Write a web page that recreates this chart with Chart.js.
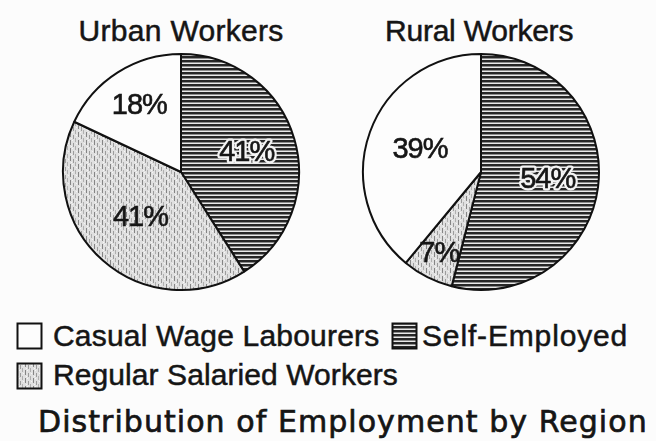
<!DOCTYPE html>
<html>
<head>
<meta charset="utf-8">
<script src="https://cdn.jsdelivr.net/npm/chart.js@4.4.1/dist/chart.umd.min.js"></script>
<style>
  html, body { margin: 0; padding: 0; background: #fcfcfc; }
  #stage { position: relative; width: 656px; height: 441px; overflow: hidden; background: #fcfcfc; }
  .pie { position: absolute; width: 240px; height: 240px; }
  .txt { position: absolute; white-space: nowrap; color: #151515;
         font-family: "Liberation Sans", Arial, Helvetica, sans-serif; font-size: 30px; line-height: 1;
         -webkit-text-stroke: 0.5px #151515; }
  .sw { position: absolute; }
  #caption { font-family: "DejaVu Sans", sans-serif; font-size: 30px; -webkit-text-stroke: 0.7px #151515; }
</style>
</head>
<body>
<div id="stage">
  <div class="pie" style="left:61px; top:52px;"><canvas id="urban" width="240" height="240"></canvas></div>
  <div class="pie" style="left:361px; top:52px;"><canvas id="rural" width="240" height="240"></canvas></div>
  <div class="txt" id="t0" style="top:16px;"></div>
  <div class="txt" id="t1" style="top:16px;"></div>
  <canvas class="sw" id="sw0" width="27" height="28" style="left:16px; top:322px;"></canvas>
  <div class="txt" id="l0" style="left:53px; top:321px;"></div>
  <canvas class="sw" id="sw1" width="27" height="28" style="left:391px; top:322px;"></canvas>
  <div class="txt" id="l1" style="left:422px; top:321px;"></div>
  <canvas class="sw" id="sw2" width="27" height="28" style="left:16px; top:362px;"></canvas>
  <div class="txt" id="l2" style="left:53px; top:360px;"></div>
  <div class="txt" id="caption" style="left:38px; top:407px;"></div>
</div>
<script>
// ---- data ----
const categories = ['Self-Employed', 'Regular Salaried Workers', 'Casual Wage Labourers'];
const urbanValues = [41, 41, 18];
const ruralValues = [54, 7, 39];
const pieTitles = ['Urban Workers', 'Rural Workers'];
const legendOrder = ['Casual Wage Labourers', 'Self-Employed', 'Regular Salaried Workers'];
const chartTitle = 'Distribution of Employment by Region';

// ---- patterns ----
function makePattern(kind) {
  const c = document.createElement('canvas');
  const g = c.getContext('2d');
  if (kind === 'lines') {
    c.width = 4; c.height = 4;
    g.fillStyle = '#e9e9e9'; g.fillRect(0, 0, 4, 4);
    g.fillStyle = '#262626'; g.fillRect(0, 0, 4, 2);
    g.fillStyle = '#8c8c8c'; g.fillRect(0, 2, 4, 1);
  } else if (kind === 'dots') {
    c.width = 8; c.height = 8;
    g.fillStyle = '#e0e0e0'; g.fillRect(0, 0, 8, 8);
    g.fillStyle = '#858585'; g.fillRect(1, 0, 1, 5);
    g.fillStyle = '#9c9c9c'; g.fillRect(4, 3, 1, 4);
    g.fillStyle = '#b0b0b0'; g.fillRect(6, 6, 1, 2); g.fillRect(6, 0, 1, 2);
    g.fillStyle = '#f6f6f6'; g.fillRect(3, 0, 1, 1); g.fillRect(7, 3, 1, 1); g.fillRect(2, 6, 1, 1);
  } else {
    c.width = 2; c.height = 2;
    g.fillStyle = '#fdfdfd'; g.fillRect(0, 0, 2, 2);
  }
  return g.createPattern(c, 'repeat');
}
const fills = {
  'Self-Employed': makePattern('lines'),
  'Regular Salaried Workers': makePattern('dots'),
  'Casual Wage Labourers': makePattern('plain')
};

// ---- slice label plugin ----
const sliceLabels = {
  id: 'sliceLabels',
  afterDatasetsDraw(chart, args, opts) {
    const ctx = chart.ctx;
    const meta = chart.getDatasetMeta(0);
    const vals = chart.data.datasets[0].data;
    meta.data.forEach((arc, i) => {
      const p = arc.getProps(['x', 'y', 'startAngle', 'endAngle', 'outerRadius'], true);
      const mid = (p.startAngle + p.endAngle) / 2;
      const r = p.outerRadius * opts.radius[i];
      const px = p.x + Math.cos(mid) * r;
      const py = p.y + Math.sin(mid) * r;
      const text = vals[i] + '%';
      ctx.save();
      ctx.font = '29px "Liberation Sans", Arial, sans-serif';
      if ('letterSpacing' in ctx) ctx.letterSpacing = '-1px';
      ctx.textAlign = 'center';
      ctx.textBaseline = 'middle';
      if (opts.halo[i]) {
        ctx.lineWidth = 5; ctx.lineJoin = 'round';
        ctx.strokeStyle = '#f4f4f4';
        ctx.strokeText(text, px, py);
      }
      ctx.fillStyle = '#161616';
      ctx.strokeStyle = '#161616';
      ctx.lineWidth = 0.6;
      ctx.fillText(text, px, py);
      ctx.strokeText(text, px, py);
      ctx.restore();
    });
  }
};

function makePie(id, values, labelOpts) {
  return new Chart(document.getElementById(id), {
    type: 'pie',
    data: {
      labels: categories,
      datasets: [{
        data: values,
        backgroundColor: categories.map(c => fills[c]),
        borderColor: '#111',
        borderWidth: 2
      }]
    },
    options: {
      responsive: false,
      animation: false,
      events: [],
      layout: { padding: 1 },
      plugins: {
        legend: { display: false },
        tooltip: { enabled: false },
        title: { display: false },
        sliceLabels: labelOpts
      }
    },
    plugins: [sliceLabels]
  });
}

makePie('urban', urbanValues, { radius: [0.58, 0.52, 0.66], halo: [true, false, false] });
makePie('rural', ruralValues, { radius: [0.57, 0.78, 0.55], halo: [true, false, false] });

// ---- titles, legend, caption (text) ----
function fitWidth(el, target) {
  const txt = el.textContent;
  const w = el.offsetWidth;
  el.style.letterSpacing = ((target - w) / txt.length) + 'px';
}
const t0 = document.getElementById('t0');
const t1 = document.getElementById('t1');
t0.textContent = pieTitles[0];
t1.textContent = pieTitles[1];
fitWidth(t0, 205);
fitWidth(t1, 188);
t0.style.left = (181 - t0.offsetWidth / 2) + 'px';
t1.style.left = (479 - t1.offsetWidth / 2) + 'px';

const legendWidths = [326, 206, 345];
legendOrder.forEach((name, i) => {
  const el = document.getElementById('l' + i);
  el.textContent = name;
  fitWidth(el, legendWidths[i]);
  const sw = document.getElementById('sw' + i);
  const g = sw.getContext('2d');
  g.fillStyle = fills[name];
  g.fillRect(1, 1, sw.width - 2, sw.height - 2);
  g.strokeStyle = '#111';
  g.lineWidth = 2;
  g.strokeRect(1.5, 1.5, sw.width - 3, sw.height - 3);
});

const cap = document.getElementById('caption');
cap.textContent = chartTitle;
fitWidth(cap, 610);
</script>
</body>
</html>
